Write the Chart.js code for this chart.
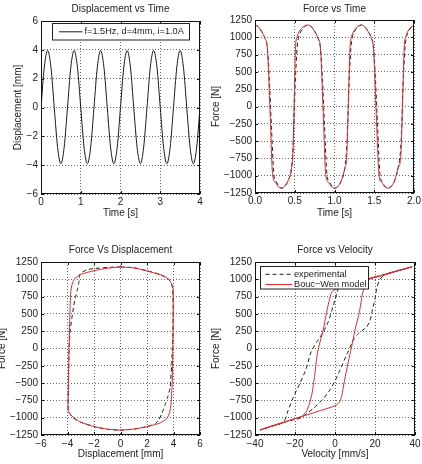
<!DOCTYPE html>
<html>
<head>
<meta charset="utf-8">
<script src="https://cdn.jsdelivr.net/npm/chart.js@4/dist/chart.umd.min.js"></script>
<style>
  html, body { margin: 0; padding: 0; background: #fff; }
  body { width: 422px; height: 464px; position: relative; overflow: hidden; }
  canvas { position: absolute; }
</style>
</head>
<body>
<canvas id="dispTime" width="211" height="232" style="left:0;top:0"></canvas>
<canvas id="forceTime" width="216" height="232" style="left:206px;top:0"></canvas>
<canvas id="forceDisp" width="216" height="232" style="left:-5px;top:232px"></canvas>
<canvas id="forceVel" width="216" height="232" style="left:206px;top:232px"></canvas>
<script>
// ---- tick values ----
const dispTimeTicks = [0, 1, 2, 3, 4];
const dispTicks = [-6, -4, -2, 0, 2, 4, 6];
const forceTimeTicks = [0, 0.5, 1, 1.5, 2];
const forceTicks = [-1250, -1000, -750, -500, -250, 0, 250, 500, 750, 1000, 1250];
const velTicks = [-40, -20, 0, 20, 40];

// ---- displacement vs time ----
const dispTime = [0, 0.083, 0.167, 0.25, 0.333, 0.417, 0.5, 0.583, 0.667, 0.75, 0.833, 0.917, 1.0, 1.083, 1.167, 1.25,
  1.333, 1.417, 1.5, 1.583, 1.667, 1.75, 1.833, 1.917, 2.0, 2.083, 2.167, 2.25, 2.333, 2.417, 2.5, 2.583,
  2.667, 2.75, 2.833, 2.917, 3.0, 3.083, 3.167, 3.25, 3.333, 3.417, 3.5, 3.583, 3.667, 3.75, 3.833, 3.917, 4.0];
const dispValue = [0, 2.8, 3.95, 2.8, 0, -2.75, -3.9, -2.75, 0, 2.8, 3.95, 2.8, 0, -2.75, -3.9, -2.75,
  0, 2.8, 3.95, 2.8, 0, -2.75, -3.9, -2.75, 0, 2.8, 3.95, 2.8, 0, -2.75, -3.9, -2.75,
  0, 2.8, 3.95, 2.8, 0, -2.75, -3.9, -2.75, 0, 2.8, 3.95, 2.8, 0, -2.75, -3.9, -2.75, 0];

// ---- force vs time ----
const ftTimeExp = [0, 0.04, 0.085, 0.125, 0.155, 0.18, 0.207, 0.238, 0.268, 0.3, 0.335, 0.38, 0.42, 0.46, 0.482, 0.505, 0.53, 0.548, 0.575, 0.62, 0.668,
  0.708, 0.753, 0.793, 0.823, 0.848, 0.875, 0.906, 0.936, 0.968, 1.004, 1.05, 1.09, 1.13, 1.158, 1.182, 1.207, 1.225, 1.25, 1.295, 1.34,
  1.38, 1.425, 1.465, 1.49, 1.515, 1.542, 1.573, 1.603, 1.635, 1.675, 1.72, 1.76, 1.8, 1.838, 1.862, 1.887, 1.905, 1.93, 1.97, 2.0];
const ftForceExp = [1178, 1152, 1080, 985, 845, 400, -300, -990, -1090, -1155, -1180, -1145, -1060, -890, -500, 300, 850, 1000, 1080, 1150, 1178,
  1152, 1080, 985, 845, 400, -300, -990, -1090, -1155, -1180, -1145, -1060, -890, -500, 300, 850, 1000, 1080, 1150, 1178,
  1152, 1080, 985, 845, 400, -300, -990, -1090, -1155, -1180, -1145, -1060, -890, -500, 300, 850, 1000, 1080, 1145, 1168];
const ftTimeModel = [0, 0.003, 0.04, 0.085, 0.125, 0.155, 0.19, 0.222, 0.26, 0.295, 0.335, 0.38, 0.42, 0.46, 0.478, 0.493, 0.51, 0.53, 0.56, 0.61, 0.668,
  0.708, 0.753, 0.793, 0.823, 0.858, 0.89, 0.928, 0.963, 1.004, 1.05, 1.09, 1.13, 1.155, 1.175, 1.195, 1.215, 1.245, 1.29, 1.34,
  1.38, 1.425, 1.465, 1.49, 1.525, 1.56, 1.597, 1.632, 1.675, 1.72, 1.76, 1.8, 1.835, 1.857, 1.877, 1.897, 1.925, 1.965, 2.0];
const ftForceModel = [400, 1178, 1152, 1080, 985, 845, -100, -990, -1100, -1160, -1180, -1145, -1060, -890, -650, 100, 850, 1010, 1090, 1155, 1178,
  1152, 1080, 985, 845, -100, -990, -1100, -1160, -1180, -1145, -1060, -890, -700, 100, 850, 1010, 1090, 1155, 1178,
  1152, 1080, 985, 845, -100, -990, -1100, -1160, -1180, -1145, -1060, -890, -700, 100, 850, 1010, 1090, 1150, 1172];

// ---- force vs displacement ----
const fdDispExp = [0, 1.0, 2.0, 3.0, 3.5, 3.8, 3.93, 3.97, 3.95, 3.86, 3.74, 3.55, 3.36, 3.1, 2.87, 2.6, 2.0, 1.0, 0,
  -1.0, -2.0, -3.0, -3.6, -3.85, -3.95, -3.93, -3.88, -3.8, -3.68, -3.45, -3.23, -3.12, -3.05, -2.5, -1.85, -1.0, 0];
const fdForceExp = [1180, 1168, 1125, 1070, 1025, 960, 870, 600, 200, -240, -570, -710, -815, -950, -1035, -1090, -1128, -1165, -1180,
  -1168, -1128, -1065, -1000, -930, -870, -500, 0, 250, 430, 700, 870, 980, 1080, 1140, 1158, 1172, 1180];
const fdDispModel = [0, 1.0, 2.0, 3.0, 3.5, 3.75, 3.9, 3.97, 3.98, 3.95, 3.9, 3.82, 3.7, 3.5, 3.0, 2.0, 1.0, 0,
  -1.0, -2.0, -3.0, -3.5, -3.8, -3.95, -3.93, -3.88, -3.82, -3.76, -3.65, -3.45, -3.0, -2.0, -1.0, 0];
const fdForceModel = [1178, 1165, 1120, 1065, 1020, 970, 910, 850, 500, 0, -500, -800, -930, -1010, -1075, -1130, -1165, -1178,
  -1165, -1128, -1065, -1005, -945, -890, -500, 0, 500, 800, 930, 1010, 1070, 1125, 1160, 1178];

// ---- force vs velocity ----
const fvVelExp = [38.5, 30, 24, 16, 8, 3.5, 2, 0.8, -0.8, -3.3, -6, -9, -12, -14.5, -17.5, -20.8, -23.5, -25.5, -28, -31, -37.5,
  -31, -25, -20, -17.5, -14, -10.8, -6, -2.5, 0, 2.5, 6, 9.2, 11.7, 15.8, 17.5, 18.5, 20, 21, 22.5, 25, 30, 38.5];
const fvForceExp = [1180, 1115, 1065, 1005, 960, 930, 890, 790, 625, 390, 230, 100, -50, -300, -500, -700, -900, -1060, -1095, -1118, -1180,
  -1118, -1062, -1025, -1008, -940, -864, -730, -598, -470, -310, -80, 123, 215, 311, 400, 530, 720, 890, 1000, 1070, 1115, 1180];
const fvVelModel = [38.5, 30, 24, 18, 12, 6, 2, 0, -1.7, -3, -4.5, -5.8, -7.5, -9, -10.2, -11.5, -12.8, -14.5, -16.7, -19, -25, -31, -37.5,
  -31, -25, -19, -12, -6, 0, 2, 3.3, 4.5, 5.8, 8.3, 10, 12.2, 13.8, 15.2, 16.5, 18.5, 24, 30, 38.5];
const fvForceModel = [1180, 1110, 1058, 1010, 955, 900, 865, 850, 810, 680, 480, 280, 95, -100, -400, -650, -800, -920, -980, -1005, -1060, -1115, -1176,
  -1115, -1060, -1005, -940, -885, -828, -785, -695, -500, -310, 27, 268, 530, 800, 920, 985, 1025, 1058, 1110, 1180];

Chart.defaults.font.family = "'Liberation Sans', Arial, Helvetica, sans-serif";
Chart.defaults.font.size = 10;
Chart.defaults.color = "#222";

const RED = "#e3262a";
const BLACK = "#1a1a1a";

function pts(xs, ys) {
  return xs.map((x, i) => ({ x, y: ys[i] }));
}

function fmt(v, dec) {
  return (dec ? v.toFixed(dec) : String(v)).replace("-", "\u2212");
}

function axis(tickVals, o) {
  return {
    type: "linear",
    position: o.pos,
    min: tickVals[0],
    max: tickVals[tickVals.length - 1],
    afterBuildTicks: (s) => { s.ticks = tickVals.map((v) => ({ value: v })); },
    afterFit: (s) => {
      if (o.pos === "left") s.width = o.size; else s.height = o.size;
      s.paddingLeft = 0; s.paddingRight = 0; s.paddingTop = 0; s.paddingBottom = 0;
    },
    grid: { color: "rgba(0,0,0,0.6)", lineWidth: 1, drawTicks: false },
    border: { display: false, dash: [1, 2] },
    ticks: { padding: o.tickPad, maxRotation: 0, autoSkip: false, callback: (v) => fmt(v, o.dec) },
    title: { display: true, text: o.title, padding: o.titlePad },
  };
}

// box + inward tick marks, matlab style
const frame = {
  id: "frame",
  afterDatasetsDraw(chart) {
    const { ctx, chartArea: a, scales } = chart;
    ctx.save();
    ctx.strokeStyle = "#111";
    ctx.lineWidth = 1;
    ctx.strokeRect(a.left + 0.5, a.top + 0.5, a.width - 1, a.height - 1);
    ctx.beginPath();
    scales.x.ticks.forEach((t) => {
      const px = Math.round(scales.x.getPixelForValue(t.value)) + 0.5;
      ctx.moveTo(px, a.bottom); ctx.lineTo(px, a.bottom - 3);
      ctx.moveTo(px, a.top); ctx.lineTo(px, a.top + 3);
    });
    scales.y.ticks.forEach((t) => {
      const py = Math.round(scales.y.getPixelForValue(t.value)) + 0.5;
      ctx.moveTo(a.left, py); ctx.lineTo(a.left + 3, py);
      ctx.moveTo(a.right, py); ctx.lineTo(a.right - 3, py);
    });
    ctx.stroke();
    ctx.restore();
  },
};

// legend box drawn inside the plot
const boxLegend = {
  id: "boxLegend",
  afterDraw(chart, args, opts) {
    if (!opts.w) return;
    const { ctx, chartArea: a } = chart;
    const x = Math.round(a.left + opts.x) + 0.5;
    const y = Math.round(a.top + opts.y) + 0.5;
    ctx.save();
    ctx.fillStyle = "#fff";
    ctx.fillRect(x, y, opts.w, opts.h);
    ctx.strokeStyle = "#222";
    ctx.lineWidth = 1;
    ctx.strokeRect(x, y, opts.w, opts.h);
    ctx.font = "9.2px 'Liberation Sans', Arial, sans-serif";
    ctx.textBaseline = "middle";
    ctx.fillStyle = "#222";
    chart.data.datasets.forEach((ds, i) => {
      const ry = y + opts.rows[i];
      ctx.strokeStyle = ds.borderColor;
      ctx.lineWidth = ds.borderWidth;
      ctx.setLineDash(ds.borderDash || []);
      ctx.beginPath();
      ctx.moveTo(x + opts.l0, ry);
      ctx.lineTo(x + opts.l1, ry);
      ctx.stroke();
      ctx.setLineDash([]);
      ctx.fillText(ds.label, x + opts.tx, ry);
    });
    ctx.restore();
  },
};

function makeChart(id, datasets, cfg) {
  return new Chart(document.getElementById(id), {
    type: "scatter",
    data: { datasets },
    options: {
      responsive: false,
      animation: false,
      events: [],
      layout: { padding: { left: 0, right: cfg.padRight, top: 0, bottom: 0 } },
      plugins: {
        legend: { display: false },
        tooltip: { enabled: false },
        title: {
          display: true, text: cfg.title, fullSize: false, color: "#222",
          font: { size: 10, weight: "normal" }, padding: cfg.titlePad,
        },
        boxLegend: cfg.legend || {},
      },
      scales: { x: cfg.x, y: cfg.y },
    },
    plugins: [frame, boxLegend],
  });
}

function line(label, xs, ys, color, dash, extra) {
  return Object.assign({
    label, data: pts(xs, ys), showLine: true, pointRadius: 0,
    borderColor: color, borderWidth: 1, borderDash: dash, fill: false,
  }, extra);
}

makeChart("dispTime",
  [line("f=1.5Hz, d=4mm, i=1.0A", dispTime, dispValue, BLACK, [], { cubicInterpolationMode: "monotone" })],
  {
    title: "Displacement vs Time", titlePad: { top: 3, bottom: 6 }, padRight: 11,
    x: axis(dispTimeTicks, { pos: "bottom", size: 38, tickPad: 2, title: "Time [s]", titlePad: { top: 0, bottom: 12.7 } }),
    y: axis(dispTicks, { pos: "left", size: 41, tickPad: 3, title: "Displacement [mm]", titlePad: { top: 12.3, bottom: 0 } }),
    legend: { x: 11, y: 1.7, w: 137, h: 16.5, rows: [8.3], l0: 6.5, l1: 30, tx: 32 },
  });

makeChart("forceTime",
  [
    line("experimental", ftTimeExp, ftForceExp, BLACK, [4, 3], { cubicInterpolationMode: "monotone", order: 2 }),
    line("Bouc\u2212Wen model", ftTimeModel, ftForceModel, RED, [], { cubicInterpolationMode: "monotone", order: 1 }),
  ],
  {
    title: "Force vs Time", titlePad: { top: 3, bottom: 5 }, padRight: 8,
    x: axis(forceTimeTicks, { pos: "bottom", size: 39, tickPad: 2.7, dec: 1, title: "Time [s]", titlePad: { top: 0, bottom: 12.7 } }),
    y: axis(forceTicks, { pos: "left", size: 49, tickPad: 3, title: "Force [N]", titlePad: { top: 4, bottom: 0 } }),
  });

makeChart("forceDisp",
  [
    line("experimental", fdDispExp, fdForceExp, BLACK, [4, 3], { tension: 0.2, order: 2 }),
    line("Bouc\u2212Wen model", fdDispModel, fdForceModel, RED, [], { tension: 0.2, order: 1 }),
  ],
  {
    title: "Force Vs Displacement", titlePad: { top: 12, bottom: 6 }, padRight: 11,
    x: axis(dispTicks, { pos: "bottom", size: 29, tickPad: 3.3, title: "Displacement [mm]", titlePad: { top: 0, bottom: 3.3 } }),
    y: axis(forceTicks, { pos: "left", size: 46, tickPad: 3, title: "Force [N]", titlePad: { top: 1.5, bottom: 0 } }),
  });

makeChart("forceVel",
  [
    line("experimental", fvVelExp, fvForceExp, BLACK, [4, 3], { tension: 0.2, order: 2 }),
    line("Bouc\u2212Wen model", fvVelModel, fvForceModel, RED, [], { tension: 0.2, order: 1 }),
  ],
  {
    title: "Force vs Velocity", titlePad: { top: 12, bottom: 6 }, padRight: 7,
    x: axis(velTicks, { pos: "bottom", size: 29, tickPad: 3.3, title: "Velocity [mm/s]", titlePad: { top: 0, bottom: 3.3 } }),
    y: axis(forceTicks, { pos: "left", size: 49, tickPad: 3, title: "Force [N]", titlePad: { top: 4, bottom: 0 } }),
    legend: { x: 4.5, y: 3.5, w: 108, h: 22.5, rows: [7.8, 18], l0: 5, l1: 31.5, tx: 33.5 },
  });
</script>
</body>
</html>
